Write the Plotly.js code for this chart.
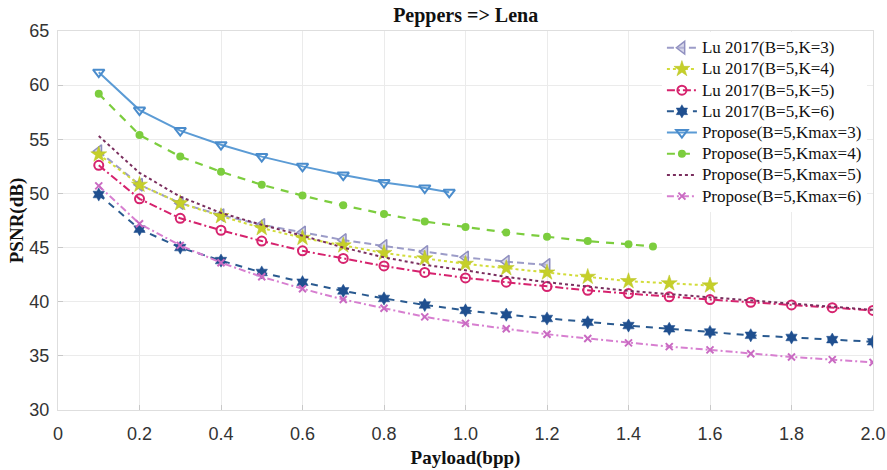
<!DOCTYPE html>
<html>
<head>
<meta charset="utf-8">
<script src="https://cdn.plot.ly/plotly-3.0.1.min.js"></script>
<style>html,body{margin:0;padding:0;background:#fff;}#chart{width:887px;height:470px;}</style>
</head>
<body>
<div id="chart"></div>
<script>
// Payload (bpp)
const xFull = [0.1,0.2,0.3,0.4,0.5,0.6,0.7,0.8,0.9,1.0,1.1,1.2,1.3,1.4,1.5,1.6,1.7,1.8,1.9,2.0];
const xLuK3 = [0.1,0.2,0.3,0.4,0.5,0.6,0.7,0.8,0.9,1.0,1.1,1.2];
const xLuK4 = [0.1,0.2,0.3,0.4,0.5,0.6,0.7,0.8,0.9,1.0,1.1,1.2,1.3,1.4,1.5,1.6];
const xProK3 = [0.1,0.2,0.3,0.4,0.5,0.6,0.7,0.8,0.9,0.96];
const xProK4 = [0.1,0.2,0.3,0.4,0.5,0.6,0.7,0.8,0.9,1.0,1.1,1.2,1.3,1.4,1.46];

// PSNR (dB)
const luK3 = [53.9,50.8,49.1,48.0,47.1,46.4,45.7,45.15,44.6,44.1,43.7,43.4];
const luK4 = [53.6,50.8,49.1,47.9,46.8,45.9,45.2,44.5,44.0,43.5,43.1,42.7,42.3,41.9,41.7,41.5];
const luK5 = [52.6,49.5,47.7,46.6,45.6,44.7,44.0,43.3,42.7,42.2,41.8,41.4,41.05,40.75,40.45,40.2,39.95,39.7,39.45,39.2];
const luK6 = [49.9,46.7,45.0,43.8,42.7,41.8,41.0,40.3,39.7,39.2,38.8,38.45,38.1,37.8,37.5,37.2,36.9,36.7,36.5,36.3];
const proK3 = [61.2,57.7,55.8,54.5,53.4,52.5,51.7,51.0,50.5,50.1];
const proK4 = [59.2,55.4,53.4,52.0,50.8,49.8,48.9,48.1,47.4,46.9,46.4,46.0,45.6,45.3,45.1];
const proK5 = [55.3,51.9,49.7,48.2,47.1,46.1,45.0,44.1,43.4,42.9,42.3,41.8,41.4,41.0,40.7,40.4,40.1,39.8,39.5,39.25];
const proK6 = [50.7,47.2,45.2,43.6,42.3,41.2,40.2,39.4,38.6,38.0,37.5,37.0,36.6,36.2,35.85,35.55,35.2,34.9,34.65,34.4];

const names = ['Lu 2017(B=5,K=3)','Lu 2017(B=5,K=4)','Lu 2017(B=5,K=5)','Lu 2017(B=5,K=6)',
  'Propose(B=5,Kmax=3)','Propose(B=5,Kmax=4)','Propose(B=5,Kmax=5)','Propose(B=5,Kmax=6)'];
const lg = n => '<span style="font-size:17px">' + n + '</span>';

const traces = [
  {x:xLuK3, y:luK3, name:lg(names[0]), mode:'lines+markers',
   line:{color:'#9c9cc8', width:2, dash:'7px,4px'},
   marker:{symbol:'triangle-left', size:11, color:'rgba(190,190,220,0.6)', line:{color:'#9090c0', width:1.5}}},
  {x:xLuK4, y:luK4, name:lg(names[1]), mode:'lines+markers',
   line:{color:'#d2dc3a', width:2, dash:'dot'},
   marker:{symbol:'star', size:12, color:'#c5cf2a', line:{color:'#b8c220', width:0.5}}},
  {x:xFull, y:luK5, name:lg(names[2]), mode:'lines+markers',
   line:{color:'#d6236e', width:2, dash:'8px,3px,2px,3px'},
   marker:{symbol:'circle-open', size:9, color:'#d6236e', line:{width:2}}},
  {x:xFull, y:luK6, name:lg(names[3]), mode:'lines+markers',
   line:{color:'#2a5a90', width:2, dash:'7px,6px'},
   marker:{symbol:'hexagram', size:10, color:'#1f4f8f', line:{color:'#1f4f8f', width:0.5}}},
  {x:xProK3, y:proK3, name:lg(names[4]), mode:'lines+markers',
   line:{color:'#5b9bd5', width:2},
   marker:{symbol:'triangle-down-open', size:10, color:'#4a8ccc', line:{width:2}}},
  {x:xProK4, y:proK4, name:lg(names[5]), mode:'lines+markers',
   line:{color:'#7ccd3e', width:2.2, dash:'8px,7px'},
   marker:{symbol:'circle', size:8, color:'#7ccd3e'}},
  {x:xFull, y:proK5, name:lg(names[6]), mode:'lines',
   line:{color:'#7a2e5e', width:2, dash:'dot'}},
  {x:xFull, y:proK6, name:lg(names[7]), mode:'lines+markers',
   line:{color:'#d77fd0', width:2, dash:'7px,3px,2px,3px'},
   marker:{symbol:'x-thin-open', size:7, color:'#c96ac2', line:{color:'#c96ac2', width:2}}}
];

const layout = {
  width:887, height:470,
  margin:{l:58, r:14, t:31, b:60},
  paper_bgcolor:'#fff', plot_bgcolor:'#fff',
  title:{text:'<b>Peppers => Lena</b>', font:{family:'Liberation Serif, Times New Roman, serif', size:20, color:'#111'},
         x:0.525, xanchor:'center', y:0.968, yanchor:'middle'},
  xaxis:{range:[0,2.0], tickvals:[0,0.2,0.4,0.6,0.8,1.0,1.2,1.4,1.6,1.8,2.0],
         ticktext:['0','0.2','0.4','0.6','0.8','1.0','1.2','1.4','1.6','1.8','2.0'],
         showgrid:true, gridcolor:'#ebebeb', gridwidth:1, zeroline:false,
         showline:true, linecolor:'#dedede', mirror:true,
         ticks:'inside', ticklen:5, tickcolor:'#c8c8c8',
         ticklabelstandoff:7,
         tickfont:{family:'Liberation Sans, Arial, sans-serif', size:18, color:'#333'},
         title:{text:'<b>Payload(bpp)</b>', font:{family:'Liberation Serif, Times New Roman, serif', size:19, color:'#111'}, standoff:8}},
  yaxis:{range:[30,65], dtick:5, tick0:30,
         showgrid:true, gridcolor:'#ebebeb', gridwidth:1, zeroline:false,
         showline:true, linecolor:'#dedede', mirror:true,
         ticks:'inside', ticklen:5, tickcolor:'#c8c8c8',
         ticklabelstandoff:4,
         tickfont:{family:'Liberation Sans, Arial, sans-serif', size:18, color:'#333'},
         title:{text:'<b>PSNR(dB)</b>', font:{family:'Liberation Serif, Times New Roman, serif', size:19, color:'#111'}, standoff:0}},
  legend:{x:0.741, xanchor:'left', y:0.997, yanchor:'top',
          bgcolor:'rgba(255,255,255,1)', borderwidth:0,
          itemwidth:30, tracegroupgap:0,
          font:{family:'Liberation Serif, Times New Roman, serif', size:14, color:'#111'}},
  showlegend:true
};

Plotly.newPlot('chart', traces, layout, {displayModeBar:false, staticPlot:true});
</script>
</body>
</html>
